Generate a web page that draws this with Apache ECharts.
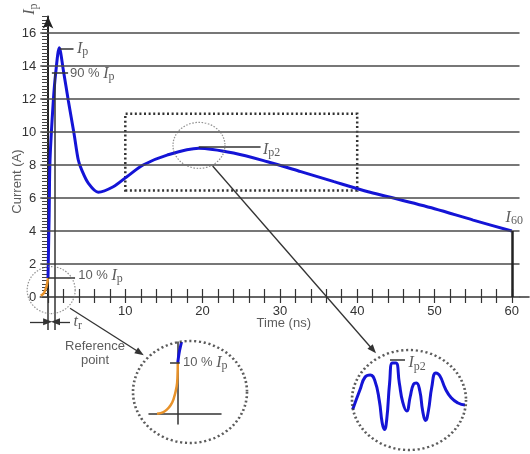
<!DOCTYPE html>
<html><head><meta charset="utf-8">
<script src="https://cdn.jsdelivr.net/npm/echarts@6/dist/echarts.min.js"></script>
<style>html,body{margin:0;padding:0;background:#fff}#c{width:530px;height:454px}</style>
</head><body><div id="c"></div>
<script>
// ---------------- data ----------------
const xTickValues = [0,2,4,6,8,10,12,14,16,18,20,22,24,26,28,30,32,34,36,38,40,42,44,46,48,50,52,54,56,58,60];
const xLabelValues = [10,20,30,40,50,60];
const yLabelValues = [0,2,4,6,8,10,12,14,16];
const gridValues = [2,4,6,8,10,12,14,16];
// orange pre-rise before reference point (t ns, I A)
const preRise = [[-0.95,0.08],[-0.6,0.2],[-0.35,0.42],[-0.15,0.72],[0,1.15]];
// blue discharge current (t ns, I A)
const waveform = [[0,1.15],[0.15,5],[0.26,8.3],[0.69,11.9],[1.0,13.6],[1.46,15.1],[2.0,13.7],[2.63,11.9],
  [3.37,9.9],[3.92,8.3],[4.36,7.7],[5.21,6.9],[6.5,6.35],[8.44,6.68],[10.2,7.29],[12.3,8.0],[15.4,8.6],
  [19.5,9.02],[24,8.73],[28.4,8.2],[32.7,7.6],[37,6.99],[41.4,6.38],[44,6.08],[50,5.35],[55,4.66],[60,4.0]];
const zoomBox = [[10,6.45],[40,11.1]];
const originCircle = [0.41,0.42];
const ip2Circle = [19.53,9.19];
// left inset (zoom of reference point)
const insetRise = [[-0.72,0],[-0.5,0.05],[-0.38,0.12],[-0.25,0.25],[-0.15,0.42],[-0.04,0.8],[-0.01,1.1],[0,1.5]];
const insetHead = [[0,1.5],[0.05,1.8],[0.13,2.1]];
const insetCircle = [0.424,0.637];
// right inset (zoom of Ip2 ringing)
const insetOsc = [[15.06,8.64],[15.7,9.13],[16.15,9.45],[16.6,9.5],[17.0,9.36],[17.4,8.85],[17.65,8.3],[17.85,8.14],[18.05,8.4],
  [18.3,9.3],[18.55,9.8],[18.85,9.8],[19.15,9.3],[19.45,8.82],[19.8,8.6],[20.1,8.95],[20.4,9.27],[20.65,9.3],
  [20.95,9.1],[21.2,8.6],[21.45,8.36],[21.7,8.6],[22.0,9.2],[22.35,9.55],[22.7,9.48],[23.2,9.15],[23.7,8.93],
  [24.3,8.8],[24.91,8.75]];
const oscCircle = [20.0,8.875];

// ---------------- layout ----------------
const W=530,H=454,X0=48,PXNS=7.73,Y0=297,PXA=16.5;
const XMIN=-1,XMAX=61,YMAX=17;
const ink='#333';
const rich={
  s:{fontFamily:'Liberation Sans',fontSize:13,color:ink},
  i:{fontFamily:'Liberation Serif',fontStyle:'italic',fontSize:16,color:ink},
  b:{fontFamily:'Liberation Serif',fontSize:12,color:ink,padding:[7,0,0,0]}
};
function lbl(pos,text,extra){return Object.assign({value:pos,label:{show:true,position:'right',distance:0,formatter:text,rich:rich}},extra||{});}

const chart=echarts.init(document.getElementById('c'),null,{renderer:'canvas'});
const plain={show:false};
chart.setOption({
  animation:false,
  backgroundColor:'#fff',
  grid:[
    {left:X0+XMIN*PXNS,right:W-(X0+XMAX*PXNS),top:Y0-YMAX*PXA,bottom:H-Y0,containLabel:false,outerBoundsMode:'none'},
    {left:0,right:0,top:0,bottom:0,containLabel:false,outerBoundsMode:'none'},
    {left:149,top:342,width:72,height:82,containLabel:false,outerBoundsMode:'none'},
    {left:352,top:355,width:114,height:80,containLabel:false,outerBoundsMode:'none'}
  ],
  xAxis:[
    {gridIndex:0,type:'value',min:XMIN,max:XMAX,position:'bottom',
     axisLine:{show:true,lineStyle:{color:ink,width:1.5}},
     axisTick:{show:true,customValues:xTickValues,length:6,lineStyle:{color:ink,width:1.2}},
     axisLabel:{show:true,customValues:xLabelValues,margin:8,color:ink,fontSize:13,fontFamily:'Liberation Sans'},
     splitLine:plain},
    {gridIndex:0,type:'value',min:XMIN,max:XMAX,position:'bottom',
     axisLine:plain,axisTick:{show:true,inside:true,customValues:xTickValues,length:8,lineStyle:{color:ink,width:1.2}},
     axisLabel:plain,splitLine:plain},
    {gridIndex:1,type:'value',min:-X0/PXNS,max:(W-X0)/PXNS,show:false},
    {gridIndex:2,type:'value',min:-1,max:1.5,axisLine:{onZero:true,lineStyle:{color:ink,width:1.5}},axisTick:plain,axisLabel:plain,splitLine:plain},
    {gridIndex:3,type:'value',min:15,max:25,show:false}
  ],
  yAxis:[
    {gridIndex:0,type:'value',min:0,max:YMAX,interval:0.2,
     axisLine:{show:true,onZero:true,symbol:['none','arrow'],symbolSize:[8,12],lineStyle:{color:'#222',width:2}},
     axisTick:{show:true,length:6,lineStyle:{color:'#444',width:1}},
     axisLabel:{show:true,customValues:yLabelValues,margin:4,color:ink,fontSize:13,fontFamily:'Liberation Sans'},
     splitLine:plain},
    {gridIndex:1,type:'value',min:-(H-Y0)/PXA,max:Y0/PXA,show:false},
    {gridIndex:2,type:'value',min:-0.3,max:2.1,axisLine:{onZero:true,lineStyle:{color:ink,width:1.5}},axisTick:plain,axisLabel:plain,splitLine:plain},
    {gridIndex:3,type:'value',min:8,max:10,show:false}
  ],
  series:[
    {type:'line',xAxisIndex:0,yAxisIndex:0,data:[],z:1,silent:true,
     markLine:{silent:true,symbol:'none',label:{show:false},lineStyle:{color:'#4a4a4a',width:1.5,type:'solid'},
       data:gridValues.map(v=>[{coord:[XMIN,v]},{coord:[XMAX,v]}])},
     markArea:{silent:true,itemStyle:{color:'rgba(0,0,0,0)',borderColor:'#333',borderWidth:2.5,borderType:[2,2.6]},
       data:[[{coord:zoomBox[0]},{coord:zoomBox[1]}]]}},
    {type:'line',xAxisIndex:0,yAxisIndex:0,data:preRise,smooth:0.4,showSymbol:false,clip:false,z:3,
     lineStyle:{color:'#e8922a',width:2.5}},
    {type:'line',xAxisIndex:0,yAxisIndex:0,data:waveform,smooth:0.3,showSymbol:false,clip:false,z:4,
     lineStyle:{color:'#1414d6',width:3}},
    // overlay: labels + plain lines
    {type:'scatter',xAxisIndex:2,yAxisIndex:1,symbolSize:0,silent:true,z:5,clip:false,
     data:[
       lbl([3.75,15.05],'{i|I}{b|p}'),
       lbl([2.85,13.55],'{s|90 % }{i|I}{b|p}'),
       lbl([3.9,1.3],'{s|10 % }{i|I}{b|p}'),
       lbl([27.8,8.95],'{i|I}{b|p2}'),
       lbl([59.2,4.8],'{i|I}{b|60}'),
       lbl([3.3,-1.52],'{i|t}{b|r}'),
       {value:[30.5,-1.62],label:{show:true,position:'inside',formatter:'Time (ns)',fontFamily:'Liberation Sans',fontSize:13,color:ink}},
       {value:[6.08,-3.39],label:{show:true,position:'inside',formatter:'Reference\npoint',lineHeight:14,align:'center',fontFamily:'Liberation Sans',fontSize:13,color:ink}},
       {value:[-3.95,7.0],label:{show:true,position:'inside',rotate:90,formatter:'Current (A)',fontFamily:'Liberation Sans',fontSize:13,color:ink}},
       {value:[-2.3,17.45],label:{show:true,position:'inside',rotate:90,formatter:'{i|I}{b|p}',rich:rich}}
     ],
     markLine:{silent:true,symbol:'none',label:{show:false},lineStyle:{color:ink,width:1.5,type:'solid'},
       data:[
         [{coord:[1.5,15.05]},{coord:[3.3,15.05]}],
         [{coord:[0.5,13.6]},{coord:[2.6,13.6]}],
         [{coord:[0,1.15]},{coord:[3.5,1.15]}],
         [{coord:[19.5,9.08]},{coord:[27.5,9.08]}],
         [{coord:[0,0]},{coord:[0,-2.0]},],
         [{coord:[0.9,13.6]},{coord:[0.9,-2.0]}],
         [{coord:[XMAX,0]},{coord:[62.3,0]}],
         [{coord:[60,0],lineStyle:{color:'#222',width:2.5}},{coord:[60,4]}]
       ]}},
    // overlay: arrows
    {type:'scatter',xAxisIndex:2,yAxisIndex:1,symbolSize:0,silent:true,z:5,clip:false,data:[[0,0]],
     markLine:{silent:true,symbol:['none','triangle'],symbolSize:[7,9],label:{show:false},lineStyle:{color:ink,width:1.3,type:'solid'},
       data:[
         [{coord:[21.3,7.94]},{coord:[42.05,-3.21]}],
         [{coord:[2.85,-0.68]},{coord:[11.9,-3.38]}],
         [{coord:[-2.33,-1.5]},{coord:[-0.05,-1.5]}],
         [{coord:[2.85,-1.5]},{coord:[0.97,-1.5]}]
       ]}},
    // overlay: small dotted circles
    {type:'scatter',xAxisIndex:2,yAxisIndex:1,silent:true,z:5,clip:false,symbol:'circle',
     itemStyle:{color:'rgba(0,0,0,0)',borderColor:'#777',borderWidth:1.2,borderType:[1.5,1.5]},
     data:[{value:originCircle,symbolSize:[48,47]},{value:ip2Circle,symbolSize:[52,46]}]},
    // left inset
    {type:'line',xAxisIndex:3,yAxisIndex:2,data:insetRise,smooth:0.4,showSymbol:false,clip:false,z:3,lineStyle:{color:'#e8922a',width:2.5}},
    {type:'line',xAxisIndex:3,yAxisIndex:2,data:insetHead,smooth:0.3,showSymbol:false,clip:false,z:4,lineStyle:{color:'#1414d6',width:3}},
    {type:'scatter',xAxisIndex:3,yAxisIndex:2,silent:true,z:5,clip:false,symbol:'circle',
     itemStyle:{color:'rgba(0,0,0,0)',borderColor:'#333',borderWidth:2.5,borderType:[2,2.6]},
     data:[{value:insetCircle,symbolSize:[114,102]},
           {value:[0.18,1.5],symbolSize:0,label:{show:true,position:'right',distance:0,formatter:'{s|10 % }{i|I}{b|p}',rich:rich}}],
     markLine:{silent:true,symbol:'none',label:{show:false},lineStyle:{color:ink,width:1.5,type:'solid'},
       data:[[{coord:[-0.27,1.5]},{coord:[0.07,1.5]}]]}},
    // right inset
    {type:'line',xAxisIndex:4,yAxisIndex:3,data:insetOsc,smooth:0.5,showSymbol:false,clip:false,z:4,lineStyle:{color:'#1414d6',width:3}},
    {type:'scatter',xAxisIndex:4,yAxisIndex:3,silent:true,z:5,clip:false,symbol:'circle',
     itemStyle:{color:'rgba(0,0,0,0)',borderColor:'#333',borderWidth:2.5,borderType:[2,2.6]},
     data:[{value:oscCircle,symbolSize:[114,100]},
           {value:[19.95,9.8],symbolSize:0,label:{show:true,position:'right',distance:0,formatter:'{i|I}{b|p2}',rich:rich}}],
     markLine:{silent:true,symbol:'none',label:{show:false},lineStyle:{color:ink,width:1.5,type:'solid'},
       data:[[{coord:[18.33,9.875]},{coord:[19.65,9.875]}]]}}
  ]
});
</script></body></html>
